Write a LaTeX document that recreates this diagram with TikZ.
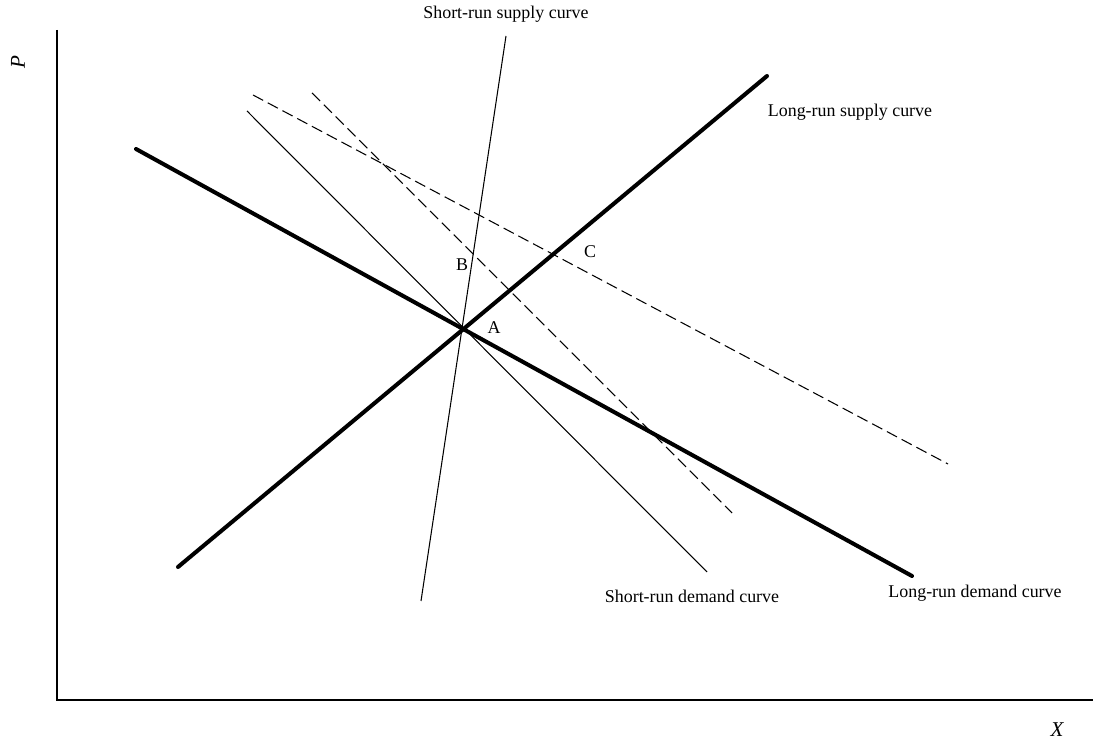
\documentclass[tikz,border=0pt]{standalone}
\usepackage{fontspec}
\setmainfont{Liberation Serif}
\usepackage{tikz}
\usetikzlibrary{positioning}

\begin{document}
\begin{tikzpicture}[x=0.02cm, y=-0.02cm,
  every node/.style={font=\fontsize{10.2}{12}\selectfont, inner sep=1pt},
  axisline/.style={line width=0.8pt},
  longcurve/.style={line width=2.3pt, line cap=round},
  shortcurve/.style={line width=0.6pt},
  shiftcurve/.style={line width=0.6pt, dash pattern=on 6.5pt off 3pt}]
  \useasboundingbox (0,0) rectangle (1093,742);
  % axes
  \coordinate (origin) at (57,700);
  \coordinate (ptop) at (57,30);
  \coordinate (xend) at (1093,700);
  \draw[axisline] (ptop) -- (origin) -- (xend);
  \node[rotate=90, font=\large\itshape] (plab) at (18,62) {P};
  \node[font=\large\itshape, inner sep=0pt] (xlab) at (1057,730) {X};
  % long-run curves
  \coordinate (lrs0) at (178,567);
  \coordinate (lrs1) at (767,76);
  \coordinate (lrd0) at (136,149);
  \coordinate (lrd1) at (912,576);
  \draw[longcurve] (lrs0) -- (lrs1);
  \draw[longcurve] (lrd0) -- (lrd1);
  % short-run curves
  \coordinate (srs0) at (421,601);
  \coordinate (srs1) at (506,36);
  \coordinate (srd0) at (247,111);
  \coordinate (srd1) at (707,572);
  \draw[shortcurve] (srs0) -- (srs1);
  \draw[shortcurve] (srd0) -- (srd1);
  % shifted demand
  \coordinate (sh1a) at (312,93);
  \coordinate (sh1b) at (732,513);
  \coordinate (sh2a) at (253,95);
  \coordinate (sh2b) at (948,464);
  \draw[shiftcurve] (sh1a) -- (sh1b);
  \draw[shiftcurve] (sh2a) -- (sh2b);
  % labels
  \node (srslab) at (506,14) {Short-run supply curve};
  \node (lrslab) at (850,112) {Long-run supply curve};
  \node (srdlab) at (692,596) {Short-run demand curve};
  \node (lrdlab) at (975,593) {Long-run demand curve};
  \node (ptA) at (494,328) {A};
  \node (ptB) at (462,265) {B};
  \node (ptC) at (590,252) {C};
\end{tikzpicture}
\end{document}
